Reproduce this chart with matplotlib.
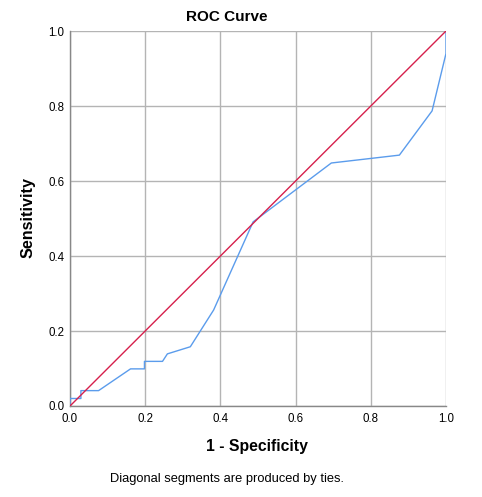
import matplotlib
matplotlib.use("Agg")
import matplotlib.pyplot as plt

# ROC curve data (1 - specificity, sensitivity)
fpr = [0.0, 0.0, 0.029, 0.029, 0.076, 0.161, 0.198, 0.198, 0.246, 0.259, 0.320,
       0.382, 0.487, 0.695, 0.876, 0.963, 1.0, 1.0]
tpr = [0.0, 0.020, 0.020, 0.041, 0.041, 0.099, 0.099, 0.119, 0.119, 0.139, 0.158,
       0.256, 0.491, 0.648, 0.669, 0.787, 0.94, 1.0]
ref_x = [0.0, 1.0]
ref_y = [0.0, 1.0]
ticks = [0.0, 0.2, 0.4, 0.6, 0.8, 1.0]
tick_labels = ["0.0", "0.2", "0.4", "0.6", "0.8", "1.0"]

plt.rcParams['font.family'] = ['Liberation Sans', 'DejaVu Sans']

fig = plt.figure(figsize=(4.82, 4.97), dpi=100)
ax = fig.add_axes([70/482, 1-406/497, 376/482, 375/497])

ax.set_xlim(0, 1)
ax.set_ylim(0, 1)
ax.set_xticks(ticks)
ax.set_yticks(ticks)
ax.set_xticklabels(tick_labels)
ax.set_yticklabels(tick_labels)
ax.grid(True, color='#b4b4b4', linewidth=1.0)
ax.set_axisbelow(True)
ax.tick_params(axis='x', length=0, labelsize=8.3, pad=5, colors='black')
ax.tick_params(axis='y', length=0, labelsize=8.3, pad=4, colors='black')
for s in ['top', 'right']:
    ax.spines[s].set_visible(False)
for s in ['left', 'bottom']:
    ax.spines[s].set_color('#888888')
    ax.spines[s].set_linewidth(1.0)

ax.plot(fpr, tpr, color='#5b9cec', linewidth=1.0, zorder=3)
ax.plot(ref_x, ref_y, color='#d6204c', linewidth=1.0, zorder=4)

fig.text(227/482, 1-17/497, "ROC Curve", ha='center', va='center',
         fontsize=11, fontweight='bold')
fig.text(257/482, 1-447/497, "1 - Specificity", ha='center', va='center',
         fontsize=11.3, fontweight='bold')
fig.text(28/482, 1-218/497, "Sensitivity", ha='center', va='center',
         fontsize=11.6, fontweight='bold', rotation=90)
fig.text(227/482, 1-479/497, "Diagonal segments are produced by ties.",
         ha='center', va='center', fontsize=9.3)

fig.savefig("out.png", dpi=100)
